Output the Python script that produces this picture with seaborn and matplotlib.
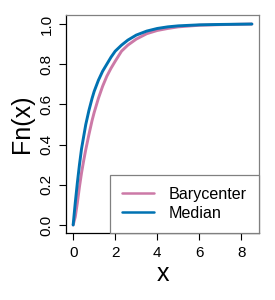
import pandas as pd
import matplotlib
matplotlib.use("Agg")
import matplotlib.pyplot as plt
import seaborn as sns

# ECDF values
x_grid = [0, 0.1, 0.2, 0.3, 0.4, 0.5, 0.6, 0.75, 0.9, 1.0, 1.2, 1.4, 1.6, 1.8,
          2.0, 2.3, 2.6, 3.0, 3.5, 4.0, 4.5, 5.0, 6.0, 7.0, 8.5]
median_fn = [0, 0.11, 0.21, 0.30, 0.38, 0.44, 0.50, 0.57, 0.63, 0.665, 0.72, 0.765, 0.80, 0.835,
             0.865, 0.895, 0.92, 0.945, 0.965, 0.978, 0.986, 0.991, 0.996, 0.998, 1.0]
bary_fn = [0, 0.04, 0.11, 0.19, 0.26, 0.32, 0.375, 0.45, 0.52, 0.56, 0.63, 0.69, 0.74, 0.78,
           0.815, 0.865, 0.895, 0.925, 0.952, 0.968, 0.978, 0.986, 0.994, 0.997, 1.0]
series = ["Barycenter", "Median"]
colors = ["#CC79A7", "#0072B2"]

df = pd.concat([
    pd.DataFrame({"x": x_grid, "Fn": bary_fn, "method": series[0]}),
    pd.DataFrame({"x": x_grid, "Fn": median_fn, "method": series[1]}),
])

sns.set_style("ticks")
plt.rcParams['font.family'] = ['Liberation Sans', 'DejaVu Sans']
plt.rcParams['text.color'] = 'black'
plt.rcParams['axes.labelcolor'] = 'black'
plt.rcParams['xtick.color'] = 'black'
plt.rcParams['ytick.color'] = 'black'

fig = plt.figure(figsize=(2.75, 3.0), dpi=100)
ax = fig.add_axes([0.24, 0.2233, 0.702, 0.7267])

sns.lineplot(data=df, x="x", y="Fn", hue="method", palette=colors,
             linewidth=2.1, ax=ax)

ax.set_xlim(-0.34, 8.84)
ax.set_ylim(-0.04, 1.045)
ax.set_xticks([0, 2, 4, 6, 8])
ax.set_yticks([0, 0.2, 0.4, 0.6, 0.8, 1.0])
ax.set_yticklabels(["0.0", "0.2", "0.4", "0.6", "0.8", "1.0"], rotation=90, va="center")
ax.tick_params(axis="both", labelsize=11, length=5, width=0.8, color="black", pad=4)

ax.set_xlabel("x", fontsize=18, labelpad=2)
ax.set_ylabel("Fn(x)", fontsize=18, labelpad=4)

for s in ["left", "bottom"]:
    ax.spines[s].set_color("black")
    ax.spines[s].set_linewidth(0.9)
for s in ["top", "right"]:
    ax.spines[s].set_visible(True)
    ax.spines[s].set_color("#808080")
    ax.spines[s].set_linewidth(0.9)

leg = ax.legend(loc="lower right", borderaxespad=0, fontsize=11.6,
                fancybox=False, framealpha=1, edgecolor="#808080",
                handlelength=2.0, handletextpad=0.9, borderpad=0.75,
                labelspacing=0.25, title=None)
leg.get_frame().set_linewidth(0.9)
for line in leg.get_lines():
    line.set_linewidth(1.8)

fig.savefig("out.png", dpi=100)
